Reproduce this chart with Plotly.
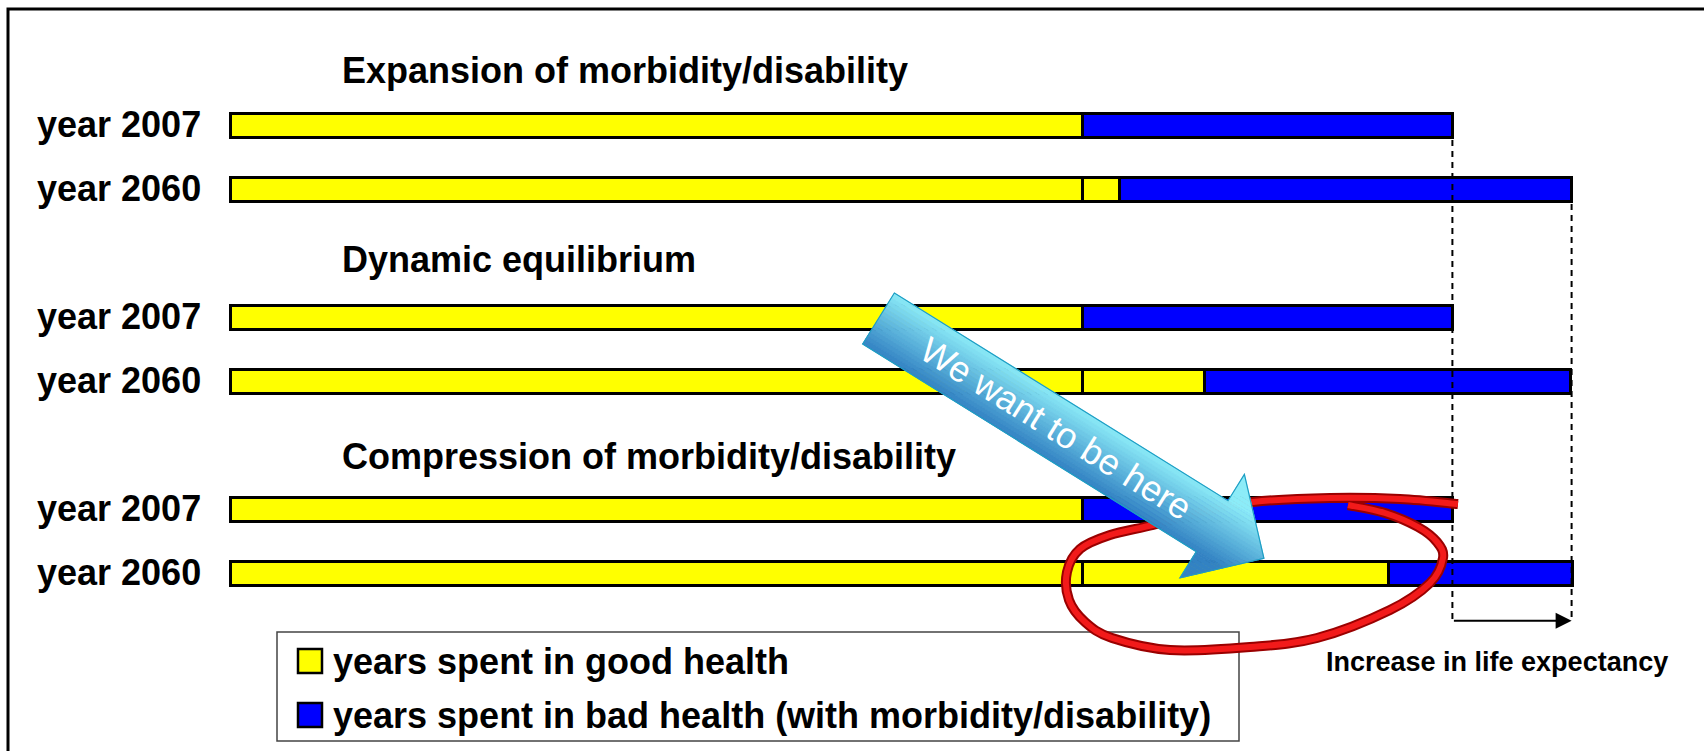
import numpy as np
import plotly.graph_objects as go

W, H = 1704, 751

# ---------------- data ----------------
scenarios = ["Expansion of morbidity/disability", "Dynamic equilibrium",
             "Compression of morbidity/disability"]
years = ["year 2007", "year 2060"]
good_base = [53.3, 53.3, 53.3, 53.3, 53.3, 53.3]          # years in good health (2007 level)
good_extra = [None, 2.3, None, 7.6, None, 19.1]           # extra healthy years by 2060
bad = [23.1, 28.25, 23.1, 22.9, 23.1, 11.5]               # years in bad health
legend_labels = ["years spent in good health",
                 "years spent in bad health (with morbidity/disability)"]
note_text = "Increase in life expectancy"
callout_text = "We want to be here"

# ---------------- layout helpers ----------------
X0, PXY = 230.0, 16.0        # pixel of value 0, pixels per year
Y0, PXS = 125.5, 64.0        # pixel of slot 0, pixels per slot
xr = [-X0 / PXY, (W - X0) / PXY]
yr = [(H - Y0) / PXS, -Y0 / PXS]

row_y = [3 * g + r for g in range(len(scenarios)) for r in range(len(years))]
row_lab = [years[r] for g in range(len(scenarios)) for r in range(len(years))]
BW = 0.39

def px(x):
    return x / W

def py(y):
    return 1 - y / H

FONT = "Liberation Sans, Arial, sans-serif"
YEL, BLU = "#FFFF00", "#0000FF"
FS = 36

fig = go.Figure()
fig.add_trace(go.Bar(y=row_y, x=good_base, orientation="h", width=BW,
                     marker=dict(color=YEL, line=dict(color="black", width=3)),
                     name=legend_labels[0], showlegend=False, hoverinfo="skip"))
fig.add_trace(go.Bar(y=row_y, x=good_extra, orientation="h", width=BW,
                     marker=dict(color=YEL, line=dict(color="black", width=3)),
                     showlegend=False, hoverinfo="skip"))
fig.add_trace(go.Bar(y=row_y, x=bad, orientation="h", width=BW,
                     marker=dict(color=BLU, line=dict(color="black", width=3)),
                     name=legend_labels[1], showlegend=False, hoverinfo="skip"))

total_2007 = good_base[0] + bad[0]
total_2060 = good_base[1] + good_extra[1] + bad[1]
arrow_slot = 7.74

# dashed guide lines
fig.add_trace(go.Scatter(x=[total_2007, total_2007], y=[row_y[0] + BW / 2 + 0.03, arrow_slot],
                         mode="lines", line=dict(color="black", width=2, dash="6px,5px"),
                         showlegend=False, hoverinfo="skip"))
fig.add_trace(go.Scatter(x=[total_2060, total_2060], y=[row_y[1] + BW / 2 + 0.03, arrow_slot],
                         mode="lines", line=dict(color="black", width=2, dash="6px,5px"),
                         showlegend=False, hoverinfo="skip"))

annotations = []
# row labels
for yv, lab in zip(row_y, row_lab):
    annotations.append(dict(x=0, y=yv, xref="x", yref="y", text=lab, showarrow=False,
                            xanchor="right", yanchor="middle", xshift=-27, yshift=1,
                            font=dict(family=FONT, size=FS, color="black", weight="bold")))
# scenario titles
title_off = [-0.86, -0.90, -0.83]
for g, t in enumerate(scenarios):
    annotations.append(dict(x=6.9, y=3 * g + title_off[g], xref="x", yref="y", text=t,
                            showarrow=False, xanchor="left", yanchor="middle",
                            font=dict(family=FONT, size=FS, color="black", weight="bold")))
# life expectancy arrow
annotations.append(dict(x=total_2060, y=arrow_slot, ax=total_2007, ay=arrow_slot,
                        xref="x", yref="y", axref="x", ayref="y", text="",
                        showarrow=True, arrowhead=2, arrowsize=1.6, arrowwidth=2,
                        arrowcolor="black", standoff=0, startstandoff=0))
annotations.append(dict(x=px(1497), y=py(662), xref="paper", yref="paper", text=note_text,
                        showarrow=False, xanchor="center", yanchor="middle",
                        font=dict(family=FONT, size=27, color="black", weight="bold")))

shapes = []
# outer frame (right and bottom edges lie outside the picture)
shapes.append(dict(type="rect", xref="paper", yref="paper", x0=px(8), x1=px(1730),
                   y0=py(9), y1=py(790), line=dict(color="black", width=3)))
# legend box
shapes.append(dict(type="rect", xref="paper", yref="paper", x0=px(277), x1=px(1239),
                   y0=py(632), y1=py(741), line=dict(color="#444444", width=1.5),
                   fillcolor="white"))
for i, (col, cyy) in enumerate([(YEL, 661), (BLU, 715)]):
    shapes.append(dict(type="rect", xref="paper", yref="paper", x0=px(298), x1=px(322),
                       y0=py(cyy + 12), y1=py(cyy - 12), fillcolor=col,
                       line=dict(color="black", width=2.5)))
    annotations.append(dict(x=px(331), y=py(cyy), xref="paper", yref="paper",
                            text=legend_labels[i], showarrow=False, xanchor="left",
                            yanchor="middle",
                            font=dict(family=FONT, size=FS, color="black", weight="bold")))

# red hand-drawn loop (Catmull-Rom -> cubic Bezier)
loop_px = [(1458, 504), (1400, 499), (1330, 498), (1253, 502), (1200, 512), (1153, 525),
           (1110, 535), (1080, 549), (1067, 572), (1069, 600), (1085, 622), (1112, 638),
           (1170, 650), (1250, 647), (1317, 638), (1390, 610), (1430, 583), (1443, 558),
           (1437, 542), (1418, 527), (1385, 513), (1348, 505)]
pts = np.array(loop_px, dtype=float)

def bez_path(pts):
    s = "M%.5f,%.5f" % (px(pts[0][0]), py(pts[0][1]))
    for i in range(len(pts) - 1):
        p0 = pts[i - 1] if i > 0 else pts[i]
        p1, p2 = pts[i], pts[i + 1]
        p3 = pts[i + 2] if i + 2 < len(pts) else pts[i + 1]
        c1 = p1 + (p2 - p0) / 6
        c2 = p2 - (p3 - p1) / 6
        s += " C%.5f,%.5f %.5f,%.5f %.5f,%.5f" % (px(c1[0]), py(c1[1]), px(c2[0]), py(c2[1]),
                                                  px(p2[0]), py(p2[1]))
    return s

lp = bez_path(pts)
shapes.append(dict(type="path", xref="paper", yref="paper", path=lp, layer="above",
                   line=dict(color="#9a0000", width=10)))
shapes.append(dict(type="path", xref="paper", yref="paper", path=lp, layer="above",
                   line=dict(color="#f21a1a", width=6)))

# blue gradient callout arrow
cx, cy = 878.5, 318.5
th = np.deg2rad(31.9)
d = np.array([np.cos(th), np.sin(th)])
nv = np.array([-np.sin(th), np.cos(th)])
Ls, hw, hl, HH = 393.0, 30.0, 61.0, 61.0

def P(u, v):
    return np.array([cx, cy]) + u * d + v * nv

def uend(v):
    return Ls + hl * (1 - abs(v) / HH)

def poly(points):
    return "M" + " L".join("%.5f,%.5f" % (px(p[0]), py(p[1])) for p in points) + " Z"

light = np.array([140, 236, 248])
dark = np.array([50, 130, 195])
bounds = sorted(set([round(v, 4) for v in np.linspace(-HH, HH, 31)] + [-hw, hw, 0.0]))
for v0, v1 in zip(bounds[:-1], bounds[1:]):
    us = 0.0 if max(abs(v0), abs(v1)) <= hw + 1e-6 else Ls
    ptsb = [P(us, v0), P(us, v1), P(uend(v1), v1), P(uend(v0), v0)]
    t = np.clip(((v0 + v1) / 2 + hw) / (2 * hw), 0, 1)
    c = light + (dark - light) * t
    col = "rgb(%d,%d,%d)" % tuple(c.astype(int))
    shapes.append(dict(type="path", xref="paper", yref="paper", path=poly(ptsb),
                       fillcolor=col, line=dict(color=col, width=0.8), layer="above"))
outline = [P(0, -hw), P(Ls, -hw), P(Ls, -HH), P(Ls + hl, 0), P(Ls, HH), P(Ls, hw), P(0, hw)]
shapes.append(dict(type="path", xref="paper", yref="paper", path=poly(outline),
                   line=dict(color="#1e9ec4", width=1.2), layer="above"))
tc = P(209, 0)
annotations.append(dict(x=px(tc[0]), y=py(tc[1]), xref="paper", yref="paper",
                        text=callout_text, showarrow=False, textangle=31.9,
                        xanchor="center", yanchor="middle",
                        font=dict(family=FONT, size=36, color="white")))

fig.update_layout(
    width=W, height=H, margin=dict(l=0, r=0, t=0, b=0),
    paper_bgcolor="white", plot_bgcolor="white",
    barmode="stack", showlegend=False,
    xaxis=dict(range=xr, visible=False, fixedrange=True),
    yaxis=dict(range=yr, visible=False, fixedrange=True),
    shapes=shapes, annotations=annotations,
)

fig.write_html("out.html", config={"displayModeBar": False},
               post_script="document.body.style.margin='0';document.body.style.overflow='hidden';")
